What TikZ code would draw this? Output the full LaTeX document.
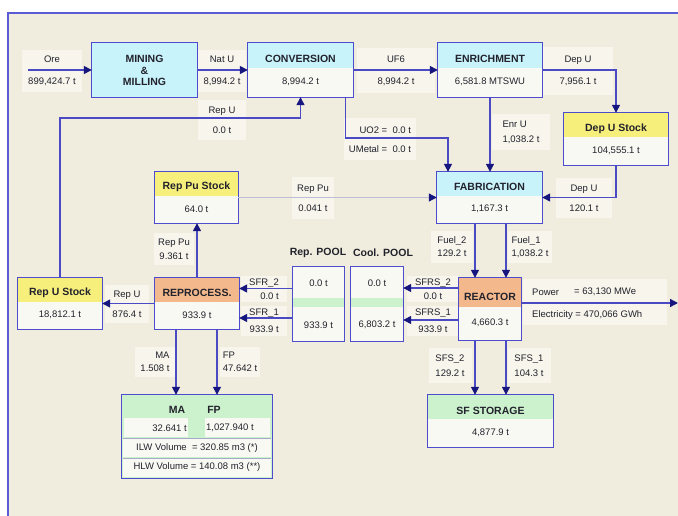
\documentclass[tikz,border=0pt]{standalone}
\usepackage{fontspec}
\setmainfont{Liberation Sans}
\usetikzlibrary{arrows.meta,calc}
\definecolor{bgbeige}{HTML}{F1EDDE}
\definecolor{lblbg}{HTML}{F7F5EC}
\definecolor{lineblue}{HTML}{4A4AC4}
\definecolor{tipblue}{HTML}{16167E}
\definecolor{boxblue}{HTML}{4C4CCC}
\definecolor{hdrcyan}{HTML}{C9F3FB}
\definecolor{bodywhite}{HTML}{F9F9F4}
\definecolor{hdryellow}{HTML}{F7EF7C}
\definecolor{hdrorange}{HTML}{F3B98C}
\definecolor{hdrgreen}{HTML}{CBF1CD}
\definecolor{framblue}{HTML}{5B5BD6}
\definecolor{txtdark}{HTML}{22222C}
\definecolor{faintline}{HTML}{BDBDD6}
\definecolor{sepgray}{HTML}{A8A8C8}
\tikzset{
 flow/.style={draw=lineblue, line width=1.4pt, -{Triangle[length=8pt,width=8pt,color=tipblue]}},
 flowfaint/.style={draw=faintline, line width=1pt, -{Triangle[length=8pt,width=8pt,color=tipblue]}},
 boxbase/.style={draw=none, fill=bodywhite, inner sep=0pt},
 boxline/.style={draw=boxblue, line width=1.3pt},
 hdr/.style={font=\fontsize{10.5}{12}\selectfont\bfseries, text=txtdark, inner sep=0pt},
 val/.style={font=\fontsize{9.5}{11}\selectfont, text=txtdark, inner sep=0pt},
 lbl/.style={font=\fontsize{9.5}{11}\selectfont, text=txtdark, inner sep=0pt},
 lblnode/.style={fill=lblbg, draw=none, inner sep=0pt, align=center, font=\fontsize{9.5}{11}\selectfont, text=txtdark},
}
\newcommand{\stagebox}[8]{%
  \node[boxbase, minimum width=#4pt, minimum height=#5pt] (#1) at (#2,#3) {};
  \fill[#6] (#1.north west) rectangle ($(#1.north east)!0.47!(#1.south east)$);
  \draw[boxline] (#1.north west) rectangle (#1.south east);
  \node[hdr] (#1-t) at ($(#1.north)!0.3!(#1.south)$) {#7};
  \node[val] (#1-v) at ($(#1.north)!0.72!(#1.south)$) {#8};
}
\begin{document}
\begin{tikzpicture}[x=1pt,y=-1pt]
\useasboundingbox (0,0) rectangle (678,516);
\fill[white] (0,0) rectangle (678,516);
\fill[bgbeige] (8,13) rectangle (678,516);
\draw[framblue, line width=1.5pt] (8,516) -- (8,13) -- (678,13);

% flow labels (backgrounds with text)
\node[lblnode, minimum width=60pt, minimum height=42pt] (lOre) at (52,71) {Ore\\[11pt]899,424.7 t};
\node[lblnode, minimum width=48pt, minimum height=42pt] (lNatU) at (222,71) {Nat U\\[11pt]8,994.2 t};
\node[lblnode, minimum width=48pt, minimum height=40pt] (lRepUt) at (222,120) {Rep U\\[9pt]0.0 t};
\node[lblnode, minimum width=78pt, minimum height=45pt] (lUF6) at (396,71) {UF6\\[11pt]8,994.2 t};
\node[lblnode, minimum width=70pt, minimum height=48pt] (lDepUt) at (578,71) {Dep U\\[11pt]7,956.1 t};
\node[lblnode, minimum width=58pt, minimum height=36pt, align=left] (lEnrU) at (521,132) {Enr U\\[4pt]1,038.2 t};
\node[lblnode, minimum width=72pt, minimum height=42pt, align=right] (lUO2) at (380,139.5) {UO2 =\ \ 0.0 t\\[8pt]UMetal =\ \ 0.0 t};
\node[lblnode, minimum width=42pt, minimum height=42pt] (lRepPum) at (313,198) {Rep Pu\\[9pt]0.041 t};
\node[lblnode, minimum width=56pt, minimum height=40pt] (lDepUm) at (584,198) {Dep U\\[9pt]120.1 t};
\node[lblnode, minimum width=40pt, minimum height=32pt] (lRepPuv) at (174,249) {Rep Pu\\[3pt]9.361 t};
\node[lblnode, minimum width=42pt, minimum height=32pt, align=left] (lFuel2) at (452,247) {Fuel\_2\\[2pt]129.2 t};
\node[lblnode, minimum width=44pt, minimum height=32pt, align=left] (lFuel1) at (530,247) {Fuel\_1\\[2pt]1,038.2 t};
\node[lblnode, minimum width=44pt, minimum height=38pt] (lRepUl) at (127,304) {Rep U\\[9pt]876.4 t};
\node[lblnode, minimum width=46pt, minimum height=26pt, align=right] (lSFR2) at (264,289) {SFR\_2\\[3pt]0.0 t};
\node[lblnode, minimum width=46pt, minimum height=30pt, align=right] (lSFR1) at (264,320.5) {SFR\_1\\[6pt]933.9 t};
\node[lblnode, minimum width=52pt, minimum height=26pt] (lSFRS2) at (433,289) {SFRS\_2\\[3pt]0.0 t};
\node[lblnode, minimum width=52pt, minimum height=30pt] (lSFRS1) at (433,320.5) {SFRS\_1\\[6pt]933.9 t};
\node[lblnode, minimum width=144pt, minimum height=46pt] (lPower) at (595,302) {};
\node[lblnode, minimum width=43pt, minimum height=35pt, align=left] (lSFS2) at (450,365.5) {SFS\_2\\[4pt]129.2 t};
\node[lblnode, minimum width=43pt, minimum height=35pt, align=left] (lSFS1) at (529,365.5) {SFS\_1\\[4pt]104.3 t};
\node[lblnode, minimum width=40pt, minimum height=30pt, align=right] (lMA) at (155,361.5) {MA\\[2pt]1.508 t};
\node[lblnode, minimum width=40pt, minimum height=30pt, align=left] (lFP) at (240,361.5) {FP\\[2pt]47.642 t};

% mining box
\node[boxbase, fill=hdrcyan, minimum width=105pt, minimum height=54pt] (mining) at (144.5,70) {};
\draw[boxline] (mining.north west) rectangle (mining.south east);
\node[hdr, align=center, font=\fontsize{10.5}{11.5}\selectfont\bfseries] (mining-t) at (144.5,70.5) {MINING\\\&\\MILLING};

% stage boxes
\stagebox{conv}{300.5}{70}{105}{54}{hdrcyan}{CONVERSION}{8,994.2 t}
\stagebox{enr}{490}{70}{104}{54}{hdrcyan}{ENRICHMENT}{6,581.8 MTSWU}
\stagebox{depu}{616}{139}{104}{52}{hdryellow}{Dep U Stock}{104,555.1 t}
\stagebox{fab}{489.5}{197.5}{105}{51}{hdrcyan}{FABRICATION}{1,167.3 t}
\stagebox{reppu}{196.5}{197.5}{83}{51}{hdryellow}{Rep Pu Stock}{64.0 t}
\stagebox{repu}{60}{303.5}{84}{51}{hdryellow}{Rep U Stock}{18,812.1 t}
\stagebox{reproc}{197}{303.5}{84}{51}{hdrorange}{REPROCESS.}{933.9 t}
\stagebox{reactor}{490}{309}{62}{62}{hdrorange}{REACTOR}{4,660.3 t}
\stagebox{sfstor}{490.5}{421}{125}{52}{hdrgreen}{SF STORAGE}{4,877.9 t}

% pools
\node[hdr] (tRepPool) at (318,253) {Rep. POOL};
\node[hdr] (tCoolPool) at (383,253) {Cool. POOL};
\node[boxbase, minimum width=51pt, minimum height=74pt] (reppool) at (318.5,304) {};
\fill[hdrgreen] (reppool.west |- 0,298) rectangle (reppool.east |- 0,307);
\draw[boxline] (reppool.north west) rectangle (reppool.south east);
\node[val] (reppool-a) at (318.5,283) {0.0 t};
\node[val] (reppool-b) at (318.5,325) {933.9 t};
\node[boxbase, minimum width=52pt, minimum height=74pt] (coolpool) at (377,304) {};
\fill[hdrgreen] (coolpool.west |- 0,298) rectangle (coolpool.east |- 0,307);
\draw[boxline] (coolpool.north west) rectangle (coolpool.south east);
\node[val] (coolpool-a) at (377,283) {0.0 t};
\node[val] (coolpool-b) at (377,325) {6,803.2 t};

% MA / FP waste box
\node[boxbase, fill=hdrgreen, minimum width=150pt, minimum height=83pt] (mafp) at (197,436.5) {};
\fill[bodywhite] (124,418) rectangle (188,437);
\fill[bodywhite] (205,418) rectangle (270,437);
\fill[bodywhite] (123,439) rectangle (271,457);
\fill[bodywhite] (123,459) rectangle (271,477);
\draw[sepgray, line width=0.6pt] (123,438.5) -- (271,438.5);
\draw[sepgray, line width=0.6pt] (123,458) -- (271,458);
\draw[boxline] (mafp.north west) rectangle (mafp.south east);
\node[hdr] (mafp-ma) at (177,410) {MA};
\node[hdr] (mafp-fp) at (214,410) {FP};
\node[val, anchor=east] (mafp-mav) at (187,428) {32.641 t};
\node[val, anchor=west] (mafp-fpv) at (206,428) {1,027.940 t};
\node[val] (mafp-ilw) at (197,448) {ILW Volume\ \ = 320.85 m3 (*)};
\node[val] (mafp-hlw) at (197,467.5) {HLW Volume = 140.08 m3 (**)};

% power texts
\node[lbl, anchor=west] (tPower) at (532,292) {Power};
\node[lbl, anchor=west] (tMWe) at (574,292) {= 63,130 MWe};
\node[lbl, anchor=west] (tElec) at (532,315) {Electricity = 470,066 GWh};

% connectors
\coordinate (oreStart) at (28,70);
\draw[flow] (oreStart) -- (mining.west);
\draw[flow] (mining.east) -- (conv.west);
\draw[flow] (conv.east) -- (enr.west);
\draw[flow] (enr.east) -| (depu.north);
\draw[flow] (enr.south) -- (enr.south |- fab.north);
\draw[flow] (depu.south) |- (fab.east);
\draw[flowfaint] (reppu.east) -- (fab.west);
\coordinate (uo2bend) at (448,138);
\draw[flow] ([xshift=-8pt]conv.south east) |- (uo2bend) -- (uo2bend |- fab.north);
\draw[flow] (repu.north) |- ($(conv.south)+(0,21)$) -- (conv.south);
\draw[flow] (reproc.north) -- (reproc.north |- reppu.south);
\draw[flow] (reproc.west) -- (repu.east);
\coordinate (sfr2) at ([yshift=15.5pt]reppool.west);
\coordinate (sfr1) at ([yshift=-14pt]reppool.west);
\draw[flow] (sfr2) -- (sfr2 -| reproc.east);
\draw[flow] (sfr1) -- (sfr1 -| reproc.east);
\coordinate (sfrs2) at ([yshift=21pt]reactor.west);
\coordinate (sfrs1) at ([yshift=-11pt]reactor.west);
\draw[flow] (sfrs2) -- (sfrs2 -| coolpool.east);
\draw[flow] (sfrs1) -- (sfrs1 -| coolpool.east);
\coordinate (fuel2) at ([xshift=-14.5pt]fab.south);
\coordinate (fuel1) at ([xshift=16.5pt]fab.south);
\draw[flow] (fuel2) -- (fuel2 |- reactor.north);
\draw[flow] (fuel1) -- (fuel1 |- reactor.north);
\coordinate (sfs2) at ([xshift=-15pt]reactor.south);
\coordinate (sfs1) at ([xshift=16pt]reactor.south);
\draw[flow] (sfs2) -- (sfs2 |- sfstor.north);
\draw[flow] (sfs1) -- (sfs1 |- sfstor.north);
\coordinate (maS) at ([xshift=-21pt]reproc.south);
\coordinate (fpS) at ([xshift=20pt]reproc.south);
\draw[flow] (maS) -- (maS |- mafp.north);
\draw[flow] (fpS) -- (fpS |- mafp.north);
\coordinate (pwr) at ([yshift=6pt]reactor.east);
\coordinate (powerEnd) at (678,303);
\draw[flow] (pwr) -- (powerEnd);
\end{tikzpicture}
\end{document}
